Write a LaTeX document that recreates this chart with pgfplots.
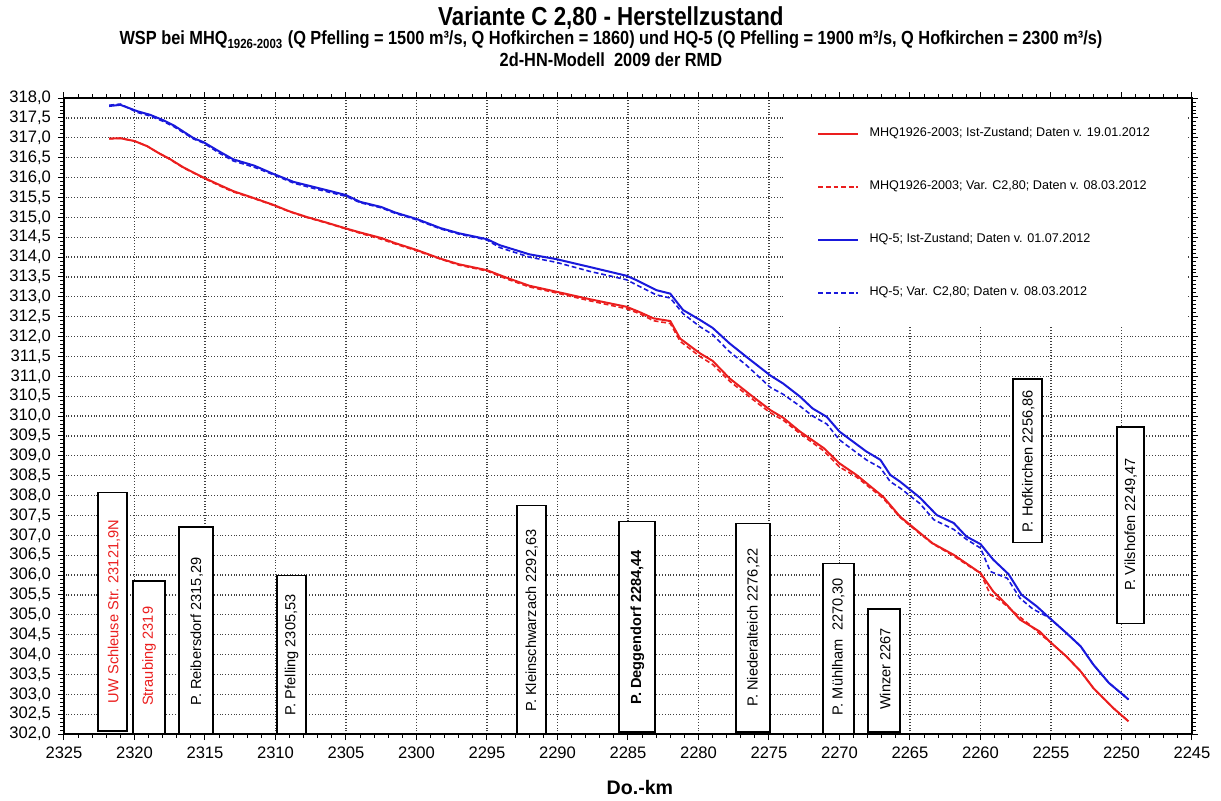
\documentclass[border=0pt]{standalone}
\usepackage{pgfplots}
\pgfplotsset{compat=1.18}
\usepackage{fontspec}
\setmainfont{Liberation Sans}
\newfontfamily\narrowfont{Liberation Sans}[FakeStretch=0.86]
\definecolor{cred}{RGB}{235,30,30}
\definecolor{cblue}{RGB}{25,25,220}
\newcommand{\lbox}[7]{%
  \draw[line width=0.9pt, fill=white] (axis cs:#1,#4) rectangle (axis cs:#2,#3);
  \node[rotate=90, anchor=west, inner sep=0pt, font=\fontsize{7.3}{8}\selectfont] at (axis cs:#5,#6) {#7};}

\begin{document}
\begin{tikzpicture}
\begin{axis}[
  scale only axis, width=564pt, height=318pt,
  x dir=reverse, xmin=2245, xmax=2325, ymin=302, ymax=318,
  xtick={2245,2250,...,2325}, ytick={302,302.5,...,318},
  minor x tick num=4, minor y tick num=4,
  tick align=outside, major tick length=3pt, minor tick length=1.8pt,
  every tick/.style={black, line width=0.5pt},
  grid=major, grid style={densely dotted, black!75, line width=0.6pt},
  axis line style={line width=0.8pt},
  clip=false,
  /pgf/number format/assume math mode=true,
  tick label style={font=\fontsize{8.3}{9}\selectfont},
  x tick label style={/pgf/number format/.cd, 1000 sep={}},
  y tick label style={/pgf/number format/.cd, fixed, fixed zerofill, precision=1, use comma, 1000 sep={}},
  legend style={at={(rel axis cs:0.6374,0.998)}, anchor=north west, draw=none, fill=white,
    font=\fontsize{6.3}{7}\selectfont, inner xsep=17pt, inner ysep=12pt, row sep=16.5pt,
    /tikz/every odd column/.append style={column sep=3pt}},
  legend cell align=left,
  legend image code/.code={\draw[#1, line width=1.1pt] (0pt,0pt) -- (20pt,0pt);},
]
\path (rel axis cs:-0.05674,-0.10063) rectangle (rel axis cs:1.02571,1.15409);

\lbox{2322.59}{2320.53}{308.08}{302.07}{2321.45}{302.77}{\color{cred}UW Schleuse Str. 23121,9N}
\lbox{2320.11}{2317.84}{305.86}{302.0}{2318.97}{302.70}{\color{cred}Straubing 2319}
\lbox{2316.84}{2314.43}{307.2}{302.0}{2315.59}{302.70}{P. Reibersdorf 2315,29}
\lbox{2309.89}{2307.84}{305.99}{302.0}{2308.85}{302.47}{P. Pfelling 2305,53}
\lbox{2292.87}{2290.82}{307.75}{302.0}{2291.83}{302.55}{P. Kleinschwarzach 2292,63}
\lbox{2285.64}{2283.09}{307.35}{302.05}{2284.34}{302.73}{\bfseries P. Deggendorf 2284,44}
\lbox{2277.34}{2274.93}{307.3}{302.05}{2276.11}{302.68}{P. Niederalteich 2276,22}
\lbox{2271.17}{2268.97}{306.29}{302.0}{2270.09}{302.47}{P. Mühlham\ \ 2270,30}
\lbox{2267.98}{2265.71}{305.14}{302.05}{2266.77}{302.60}{Winzer 2267}
\lbox{2257.70}{2255.64}{310.94}{306.82}{2256.61}{307.05}{P. Hofkirchen 2256,86}
\lbox{2250.32}{2248.40}{309.73}{304.78}{2249.35}{305.59}{P. Vilshofen 2249,47}

\addplot[color=cred, line width=1pt] coordinates {
(2321.8,316.98) (2321.0,316.99) (2320.0,316.92) (2319.1,316.79) (2318.3,316.62)
(2317.5,316.47) (2316.5,316.25) (2315.1,316.00) (2314.0,315.82) (2313.0,315.66)
(2311.5,315.48) (2310.2,315.32) (2309.0,315.15) (2307.8,315.01) (2306.5,314.88)
(2305.0,314.72) (2304.0,314.62) (2302.5,314.48) (2301.5,314.35) (2300.0,314.18)
(2298.3,313.96) (2297.0,313.82) (2295.0,313.67) (2293.6,313.48) (2292.0,313.28)
(2290.1,313.13) (2287.7,312.94) (2285.1,312.75) (2284.2,312.62) (2283.2,312.46)
(2282.0,312.39) (2281.3,311.95) (2279.9,311.58) (2279.0,311.39) (2277.8,310.95)
(2276.3,310.53) (2274.9,310.15) (2274.0,309.96) (2272.8,309.61) (2271.1,309.19)
(2270.0,308.81) (2268.8,308.52) (2266.9,307.97) (2265.7,307.47) (2264.5,307.12)
(2263.4,306.80) (2261.9,306.51) (2260.7,306.22) (2260.0,306.05) (2259.1,305.59)
(2258.1,305.24) (2257.2,304.88) (2255.8,304.58) (2255.1,304.33) (2253.9,303.95)
(2252.9,303.58) (2252.0,303.16) (2250.6,302.66) (2249.5,302.32)};
\addlegendentry{MHQ1926-2003; Ist-Zustand; Daten v. 19.01.2012}

\addplot[color=cred, line width=0.8pt, dash pattern=on 2.4pt off 1.4pt] coordinates {
(2321.8,316.98) (2321.0,316.99) (2320.0,316.92) (2319.1,316.79) (2318.3,316.62)
(2317.5,316.46) (2316.5,316.24) (2315.1,315.99) (2314.0,315.80) (2313.0,315.64)
(2311.5,315.47) (2310.2,315.31) (2309.0,315.14) (2307.8,315.00) (2306.5,314.87)
(2305.0,314.71) (2304.0,314.60) (2302.5,314.45) (2301.5,314.33) (2300.0,314.16)
(2298.3,313.95) (2297.0,313.80) (2295.0,313.65) (2293.6,313.45) (2292.0,313.25)
(2290.1,313.10) (2287.7,312.90) (2285.1,312.70) (2284.2,312.58) (2283.2,312.40)
(2282.0,312.33) (2281.3,311.88) (2279.9,311.50) (2279.0,311.30) (2277.8,310.88)
(2276.3,310.46) (2274.9,310.08) (2274.0,309.90) (2272.8,309.56) (2271.1,309.12)
(2270.0,308.72) (2268.8,308.47) (2266.9,307.93) (2265.7,307.45) (2264.5,307.10)
(2263.4,306.79) (2261.9,306.48) (2260.7,306.20) (2260.0,306.05) (2259.3,305.51)
(2258.6,305.36) (2257.4,305.00) (2256.5,304.75) (2255.8,304.52) (2255.1,304.33)
(2253.9,303.95) (2252.9,303.58) (2252.0,303.16) (2250.6,302.66) (2249.5,302.32)};
\addlegendentry{MHQ1926-2003; Var. C2,80; Daten v. 08.03.2012}

\addplot[color=cblue, line width=1pt] coordinates {
(2321.8,317.80) (2321.0,317.83) (2319.8,317.67) (2318.9,317.58) (2318.0,317.45)
(2317.2,317.31) (2315.8,316.99) (2315.1,316.89) (2314.0,316.66) (2313.0,316.46)
(2311.5,316.30) (2310.2,316.10) (2308.7,315.89) (2307.0,315.74) (2305.0,315.56)
(2304.0,315.39) (2302.5,315.26) (2301.5,315.12) (2300.0,314.96) (2298.3,314.73)
(2297.0,314.60) (2295.0,314.45) (2294.1,314.30) (2292.0,314.07) (2290.1,313.95)
(2287.7,313.75) (2285.1,313.53) (2284.4,313.42) (2283.0,313.17) (2282.0,313.08)
(2281.1,312.67) (2279.9,312.42) (2279.0,312.22) (2277.8,311.83) (2276.6,311.49)
(2274.9,311.02) (2274.0,310.82) (2272.8,310.49) (2271.9,310.19) (2270.9,309.98)
(2270.0,309.61) (2268.1,309.11) (2267.1,308.90) (2266.4,308.52) (2265.7,308.35)
(2264.3,307.95) (2263.1,307.51) (2261.9,307.31) (2261.0,306.97) (2260.0,306.78)
(2259.1,306.39) (2258.0,306.02) (2257.1,305.51) (2256.0,305.21) (2255.1,304.92)
(2253.9,304.54) (2252.9,304.21) (2252.0,303.75) (2250.9,303.29) (2249.5,302.87)};
\addlegendentry{HQ-5; Ist-Zustand; Daten v. 01.07.2012}

\addplot[color=cblue, line width=0.8pt, dash pattern=on 2.4pt off 1.4pt] coordinates {
(2321.8,317.82) (2321.0,317.85) (2319.8,317.64) (2318.9,317.55) (2318.0,317.42)
(2317.2,317.28) (2315.8,316.97) (2315.1,316.87) (2314.0,316.62) (2313.0,316.42)
(2311.5,316.26) (2310.2,316.08) (2308.7,315.86) (2307.0,315.70) (2305.0,315.53)
(2304.0,315.37) (2302.5,315.24) (2301.5,315.10) (2300.0,314.94) (2298.3,314.71)
(2297.0,314.58) (2295.0,314.43) (2294.1,314.24) (2292.0,314.00) (2290.1,313.87)
(2287.7,313.64) (2285.1,313.43) (2284.4,313.30) (2283.0,313.05) (2282.0,312.97)
(2281.1,312.58) (2279.9,312.25) (2279.0,312.05) (2277.8,311.62) (2276.6,311.28)
(2274.9,310.72) (2274.0,310.55) (2272.8,310.25) (2271.9,310.00) (2270.9,309.80)
(2270.0,309.40) (2268.1,308.90) (2267.1,308.70) (2266.4,308.35) (2265.7,308.19)
(2264.3,307.80) (2263.3,307.39) (2261.9,307.15) (2261.0,306.90) (2260.0,306.68)
(2259.3,306.09) (2258.1,305.92) (2257.2,305.42) (2256.3,305.15) (2255.3,304.96)
(2255.1,304.92) (2253.9,304.54) (2252.9,304.21) (2252.0,303.75) (2250.9,303.29)
(2249.5,302.87)};
\addlegendentry{HQ-5; Var. C2,80; Daten v. 08.03.2012}

\node[font=\narrowfont\bfseries\fontsize{13}{15}\selectfont] at (rel axis cs:0.4849,1.1258) {Variante C 2,80 - Herstellzustand};
\node[font=\narrowfont\bfseries\fontsize{9.5}{11}\selectfont] at (rel axis cs:0.4849,1.0912) {WSP bei MHQ\textsubscript{1926-2003} (Q Pfelling = 1500 m³/s, Q Hofkirchen = 1860) und HQ-5 (Q Pfelling = 1900 m³/s, Q Hofkirchen = 2300 m³/s)};
\node[font=\narrowfont\bfseries\fontsize{9.5}{11}\selectfont] at (rel axis cs:0.4849,1.0597) {2d-HN-Modell\ \ 2009 der RMD};
\node[font=\bfseries\fontsize{9.8}{11}\selectfont] at (rel axis cs:0.5106,-0.0833) {Do.-km};
\end{axis}
\end{tikzpicture}
\end{document}
